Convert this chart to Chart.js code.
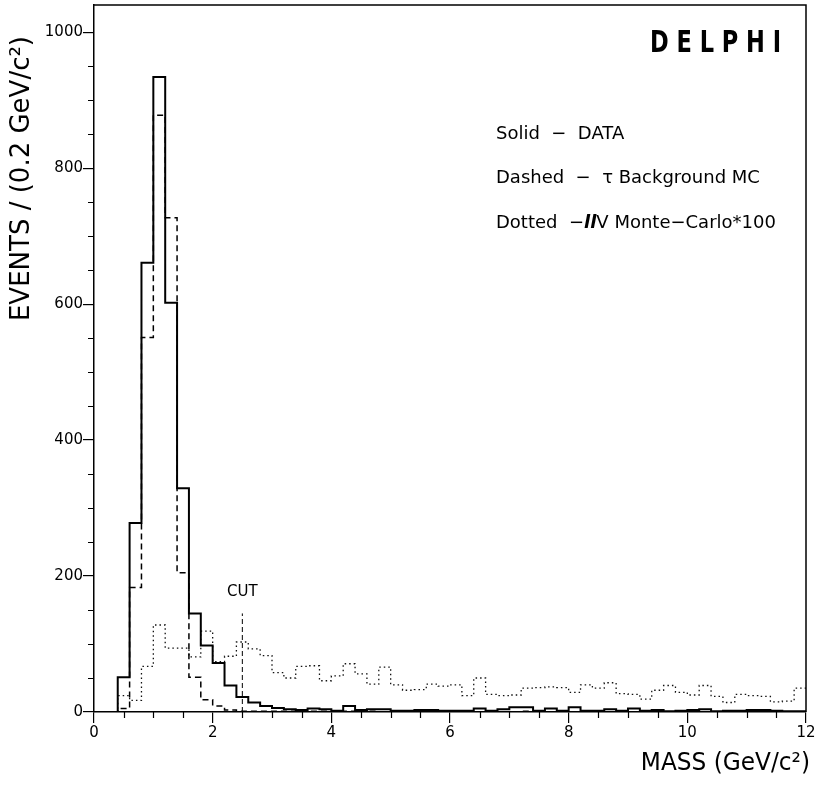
<!DOCTYPE html>
<html>
<head>
<meta charset="utf-8">
<script src="https://cdn.jsdelivr.net/npm/chart.js@4.4.1/dist/chart.umd.min.js"></script>
<style>
  html, body { margin: 0; padding: 0; background: #fff; }
  #wrap { width: 823px; height: 787px; }
</style>
</head>
<body>
<div id="wrap"><canvas id="c" width="823" height="787"></canvas></div>
<script>
// Invariant-mass histograms, 0.2 GeV/c^2 bins from 0 to 12 GeV/c^2
const BIN_LO = 0;
const BIN_WIDTH = 0.2;

// Solid: DATA
const dataCounts = [
  0, 0, 51, 278, 661, 934, 602, 329, 145, 98,
  72, 39, 22, 14, 9, 6, 4, 3, 5, 4,
  2, 9, 3, 4, 4, 2, 2, 3, 3, 2,
  2, 2, 5, 2, 4, 7, 7, 2, 5, 2,
  7, 2, 2, 4, 2, 5, 2, 3, 1, 2,
  3, 4, 1, 2, 2, 3, 3, 2, 1, 1
];

// Dashed: tau background MC
const tauBackground = [
  0, 0, 5, 183, 551, 878, 727, 205, 51, 18,
  9, 3, 1, 1, 1, 1, 1, 1, 1, 1,
  1, 1, 0, 1, 0, 1, 0, 1, 0, 0,
  1, 0, 0, 1, 0, 0, 1, 0, 0, 0,
  0, 1, 0, 0, 0, 0, 1, 0, 0, 0,
  0, 0, 0, 1, 0, 0, 0, 0, 0, 0
];

// Dotted: llV Monte-Carlo x100
const llvMC = [
  0, 0, 24, 17, 67, 128, 94, 94, 81, 119,
  74, 82, 103, 93, 83, 58, 50, 67, 68, 46,
  53, 71, 56, 41, 66, 40, 32, 33, 41, 38,
  40, 24, 50, 26, 24, 25, 35, 36, 37, 36,
  29, 40, 35, 43, 27, 26, 19, 32, 39, 29,
  25, 39, 23, 14, 26, 24, 23, 15, 16, 35
];

const xTickValues = [0, 2, 4, 6, 8, 10, 12];
const yTickValues = [0, 200, 400, 600, 800, 1000];
const cutMass = 2.5;
const cutTop = 145;

const FONT = '"DejaVu Sans", "Liberation Sans", sans-serif';

// Turn per-bin contents into step points (left edge of each bin + closing right edge)
function histPoints(values) {
  const pts = values.map((v, i) => ({ x: BIN_LO + i * BIN_WIDTH, y: v }));
  pts.push({ x: BIN_LO + values.length * BIN_WIDTH, y: values[values.length - 1] });
  return pts;
}

// Frame, minor ticks and text annotations
const decorations = {
  id: 'decorations',
  afterDraw(chart) {
    const { ctx, chartArea: a, scales } = chart;
    const xs = scales.x, ys = scales.y;
    ctx.save();
    ctx.strokeStyle = '#000';
    ctx.lineWidth = 1.5;
    // top and right edges of the frame
    ctx.beginPath();
    ctx.moveTo(a.left, a.top);
    ctx.lineTo(a.right, a.top);
    ctx.lineTo(a.right, a.bottom);
    ctx.stroke();

    // minor ticks
    ctx.lineWidth = 1.2;
    ctx.beginPath();
    for (let v = 50; v < 1040; v += 50) {
      if (v % 200 === 0) continue;
      const py = Math.round(ys.getPixelForValue(v)) + 0.5;
      ctx.moveTo(a.left - 6, py);
      ctx.lineTo(a.left, py);
    }
    for (let k = 1; k < 24; k++) {
      if (k % 4 === 0) continue;
      const px = Math.round(xs.getPixelForValue(k * 0.5)) + 0.5;
      ctx.moveTo(px, a.bottom);
      ctx.lineTo(px, a.bottom + 6);
    }
    ctx.stroke();

    ctx.fillStyle = '#000';
    ctx.textBaseline = 'middle';
    ctx.textAlign = 'left';

    // DELPHI tag, bold, narrow letters with wide spacing
    ctx.font = 'bold 30px ' + FONT;
    ctx.save();
    ctx.translate(650, 44);
    ctx.scale(0.75, 1);
    let lx = 0;
    for (const ch of 'DELPHI') {
      ctx.fillText(ch, lx, 0);
      lx += ctx.measureText(ch).width + 10.4;
    }
    ctx.restore();

    // legend lines
    const legX = 496;
    ctx.font = '18px ' + FONT;
    ctx.fillText('Solid  \u2212  DATA', legX, 134);
    ctx.fillText('Dashed  \u2212  \u03C4 Background MC', legX, 178);
    let tx = legX;
    const part1 = 'Dotted  \u2212';
    ctx.fillText(part1, tx, 223);
    tx += ctx.measureText(part1).width;
    ctx.font = 'italic bold 18px ' + FONT;
    ctx.fillText('ll', tx, 223);
    tx += ctx.measureText('ll').width;
    ctx.font = '18px ' + FONT;
    ctx.fillText('V Monte\u2212Carlo*100', tx, 223);

    // cut label
    ctx.font = '15px ' + FONT;
    ctx.textAlign = 'center';
    ctx.fillText('CUT', xs.getPixelForValue(cutMass), 592);

    // axis titles, placed at the far end of each axis
    ctx.save();
    ctx.font = '25px ' + FONT;
    ctx.translate(810, 763);
    ctx.scale(0.93, 1);
    ctx.textAlign = 'right';
    ctx.fillText('MASS (GeV/c\u00B2)', 0, 0);
    ctx.restore();

    ctx.save();
    ctx.font = '26px ' + FONT;
    ctx.translate(22, 36);
    ctx.rotate(-Math.PI / 2);
    ctx.textAlign = 'right';
    ctx.fillText('EVENTS / (0.2 GeV/c\u00B2)', 0, 0);
    ctx.restore();

    ctx.restore();
  }
};

new Chart(document.getElementById('c'), {
  type: 'line',
  data: {
    datasets: [
      {
        label: 'DATA',
        data: histPoints(dataCounts),
        stepped: 'before',
        borderColor: '#000',
        borderWidth: 2,
        pointRadius: 0,
        fill: false
      },
      {
        label: 'tau background MC',
        data: histPoints(tauBackground),
        stepped: 'before',
        borderColor: '#000',
        borderWidth: 1.5,
        borderDash: [6, 4],
        pointRadius: 0,
        fill: false
      },
      {
        label: 'llV Monte-Carlo*100',
        data: histPoints(llvMC),
        stepped: 'before',
        borderColor: '#111',
        borderWidth: 1.3,
        borderDash: [1.5, 3],
        pointRadius: 0,
        fill: false
      },
      {
        label: 'cut',
        data: [{ x: cutMass, y: 0 }, { x: cutMass, y: cutTop }],
        borderColor: '#000',
        borderWidth: 1,
        borderDash: [5, 3],
        pointRadius: 0,
        fill: false
      }
    ]
  },
  options: {
    responsive: false,
    animation: false,
    devicePixelRatio: 1,
    layout: { autoPadding: false, padding: { left: 0, right: 17, top: 5, bottom: 0 } },
    plugins: { legend: { display: false }, tooltip: { enabled: false } },
    scales: {
      x: {
        type: 'linear',
        min: 0,
        max: 12,
        afterFit(s) { s.height = 75; s.paddingLeft = 0; s.paddingRight = 0; },
        afterBuildTicks(s) { s.ticks = xTickValues.map(v => ({ value: v })); },
        ticks: { color: '#000', font: { family: FONT, size: 15 }, padding: 1, maxRotation: 0,
                 callback: v => String(v) },
        grid: { drawOnChartArea: false, drawTicks: true, tickLength: 11, color: '#000', lineWidth: 1.2 },
        border: { display: true, color: '#000', width: 1.5 }
      },
      y: {
        type: 'linear',
        min: 0,
        max: 1040,
        afterFit(s) { s.width = 94; s.paddingTop = 0; s.paddingBottom = 0; },
        afterBuildTicks(s) { s.ticks = yTickValues.map(v => ({ value: v })); },
        ticks: { color: '#000', font: { family: FONT, size: 15 }, padding: 0,
                 callback: v => String(v) },
        grid: { drawOnChartArea: false, drawTicks: true, tickLength: 11, color: '#000', lineWidth: 1.2 },
        border: { display: true, color: '#000', width: 1.5 }
      }
    }
  },
  plugins: [decorations]
});
</script>
</body>
</html>
